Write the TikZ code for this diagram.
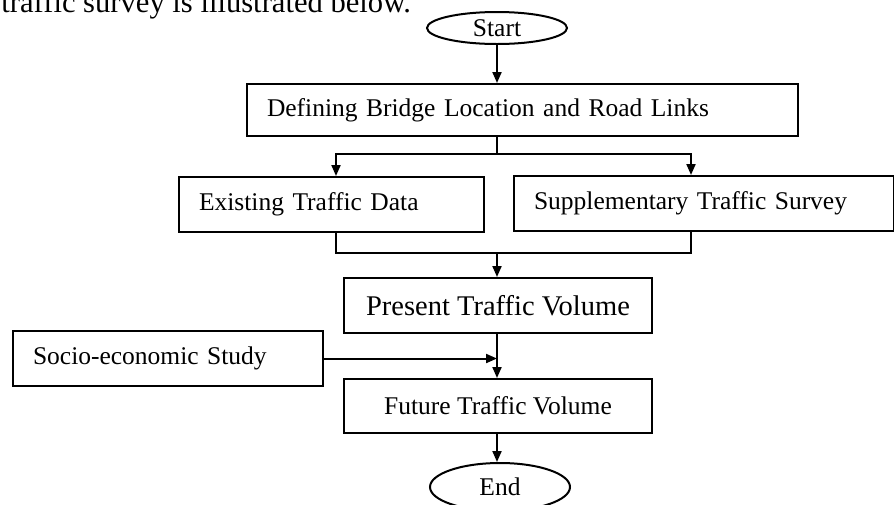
\documentclass[tikz,border=0pt]{standalone}
\usepackage{fontspec}
\setmainfont{Liberation Serif}
\usetikzlibrary{shapes.geometric,arrows.meta}

\tikzset{
    box/.style={draw, anchor=north west, align=left, inner xsep=20pt, inner ysep=0pt,
        font=\fontsize{25.5}{30}\selectfont},
    midbox/.style={box, align=center, minimum width=308pt},
    oval/.style={draw, ellipse, minimum width=140pt, minimum height=32pt, inner sep=0pt,
        font=\fontsize{25.5}{30}\selectfont},
    arr/.style={-{Triangle[length=11pt,width=9pt]}},
}

\begin{document}
\begin{tikzpicture}[x=1pt, y=-1pt, line width=2pt]
    \useasboundingbox (0,0) rectangle (894,504);

    % Text line above.
    \node[anchor=base east, inner sep=0pt, font=\fontsize{30.6}{34}\selectfont] (intro) at (412,12)
        {traffic survey is illustrated below.};

    % Boxes.
    \node[oval] (start) at (497,28) {Start};
    \node[box, text width=511pt, minimum height=52pt] (def) at (246,83)
        {Defining Bridge Location and Road Links};
    \node[box, text width=265pt, minimum height=55pt] (exist) at (178,176)
        {Existing Traffic Data};
    \node[box, text width=340pt, minimum height=55pt] (supp) at (513,175)
        {Supplementary Traffic Survey};
    \node[midbox, minimum height=55pt, font=\fontsize{28.5}{32}\selectfont] (present) at (343,277)
        {Present Traffic Volume};
    \node[box, text width=270pt, minimum height=55pt] (socio) at (12,330)
        {Socio-economic Study};
    \node[midbox, minimum height=54pt] (future) at (343,378)
        {Future Traffic Volume};
    \node[oval, minimum height=48pt] (finish) at (500,487) {End};

    % Connections.
    \coordinate (split) at (497,154);
    \coordinate (merge) at (497,253);
    \draw[arr] (start) -- (start |- def.north);
    \draw (start |- def.south) -- (split);
    \draw[arr] (split) -| ([xshift=4.5pt]exist.north);
    \draw[arr] (split) -| ([xshift=-13pt]supp.north);
    \draw ([xshift=4.5pt]exist.south) |- (merge) -| ([xshift=-13pt]supp.south);
    \draw[arr] (merge) -- (merge |- present.north);
    \draw[arr] (merge |- present.south) -- (merge |- future.north);
    \draw[arr] (socio.east) -- (socio.east -| merge);
    \draw[arr] (merge |- future.south) -- (merge |- finish.north);
\end{tikzpicture}
\end{document}
